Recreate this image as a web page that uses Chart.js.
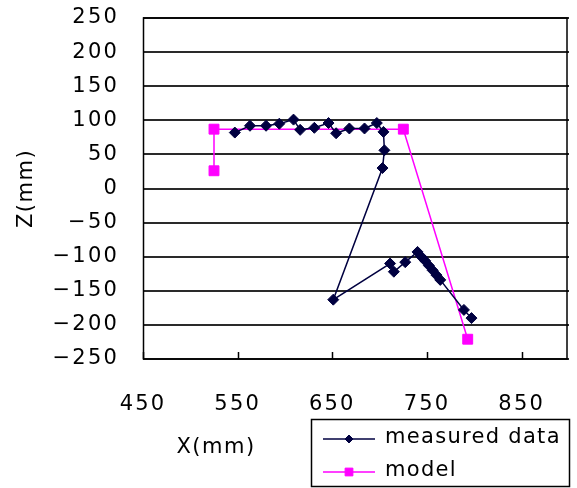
<!DOCTYPE html>
<html>
<head>
<meta charset="utf-8">
<script src="https://cdn.jsdelivr.net/npm/chart.js@4/dist/chart.umd.min.js"></script>
<style>
html,body{margin:0;padding:0;background:#fff;}
#wrap{width:577px;height:488px;}
</style>
</head>
<body>
<div id="wrap"><canvas id="c" width="577" height="488"></canvas></div>
<script>
// Data
const measuredX = [547, 563, 580, 594, 609, 616, 631, 646, 654, 668, 684, 697, 704, 705, 703, 651, 711, 715, 727, 740, 744, 748, 752, 756, 760, 764, 789, 797];
const measuredZ = [82, 92, 92, 95, 101, 86, 89, 96, 81, 88, 88, 96, 83, 56, 30, -163, -110, -122, -108, -93, -100, -106, -113, -120, -127, -134, -178, -190];
const modelX = [525, 525, 725, 793];
const modelZ = [26, 87, 87, -221];
const xTickValues = [450, 550, 650, 750, 850];
const seriesNames = ['measured data', 'model'];
const xTitle = 'X(mm)';
const yTitle = 'Z(mm)';

const NAVY = '#000040';
const MAGENTA = '#ff00ff';
const FONT = '"DejaVu Sans", sans-serif';
const SPACING = '2.2px';

const toPts = (xs, ys) => xs.map((x, i) => ({x: x, y: ys[i]}));

const spacing = {
  id: 'spacing',
  beforeInit(chart) { chart.ctx.letterSpacing = SPACING; },
  beforeLayout(chart) { chart.ctx.letterSpacing = SPACING; },
  beforeDraw(chart) { chart.ctx.letterSpacing = SPACING; }
};

const decor = {
  id: 'decor',
  afterDatasetsDraw(chart) {
    const ctx = chart.ctx;
    const a = chart.chartArea;
    const xs = chart.scales.x;
    ctx.save();
    // plot box
    ctx.strokeStyle = '#000';
    ctx.lineWidth = 1.5;
    ctx.strokeRect(a.left + 0.5, a.top, a.right - a.left - 2.5, a.bottom - a.top);
    // inner x tick marks
    xTickValues.forEach(v => {
      const px = Math.round(xs.getPixelForValue(v)) + 0.5;
      ctx.beginPath();
      ctx.moveTo(px, a.bottom);
      ctx.lineTo(px, a.bottom - 7);
      ctx.stroke();
    });
    // axis titles
    ctx.letterSpacing = '1.5px';
    ctx.fillStyle = '#000';
    ctx.font = '21px ' + FONT;
    ctx.textAlign = 'center';
    ctx.textBaseline = 'middle';
    ctx.fillText(xTitle, 216, 448);
    ctx.save();
    ctx.translate(27, (a.top + a.bottom) / 2);
    ctx.rotate(-Math.PI / 2);
    ctx.fillText(yTitle, 0, 0);
    ctx.restore();
    // legend
    const lx = 311, ly = 419, lw = 258, lh = 67;
    ctx.fillStyle = '#fff';
    ctx.fillRect(lx, ly, lw, lh);
    ctx.strokeStyle = '#000';
    ctx.lineWidth = 1.5;
    ctx.strokeRect(lx + 0.5, ly + 0.5, lw, lh);
    const ds = chart.data.datasets;
    const rows = [439, 472];
    const legendRadius = [4, 5.5];
    ctx.letterSpacing = '1.3px';
    ds.forEach((d, i) => {
      const y = rows[i];
      ctx.strokeStyle = d.borderColor;
      ctx.lineWidth = 1.5;
      ctx.beginPath();
      ctx.moveTo(323, y);
      ctx.lineTo(375, y);
      ctx.stroke();
      ctx.fillStyle = d.pointBackgroundColor;
      ctx.strokeStyle = d.pointBorderColor;
      ctx.lineWidth = 1;
      Chart.helpers.drawPoint(ctx, {
        pointStyle: d.pointStyle, radius: legendRadius[i], borderWidth: 1, rotation: 0
      }, 349, y);
      ctx.fillStyle = '#000';
      ctx.font = '21px ' + FONT;
      ctx.textAlign = 'left';
      ctx.textBaseline = 'middle';
      ctx.fillText(d.label, 385, y - 1);
    });
    ctx.restore();
  }
};

new Chart(document.getElementById('c'), {
  type: 'scatter',
  data: {
    datasets: [
      {
        label: seriesNames[0],
        data: toPts(measuredX, measuredZ),
        showLine: true,
        borderColor: NAVY,
        borderWidth: 1.5,
        pointStyle: 'rectRot',
        pointRadius: 5.5,
        pointBorderWidth: 1,
        pointBackgroundColor: NAVY,
        pointBorderColor: NAVY,
        tension: 0
      },
      {
        label: seriesNames[1],
        data: toPts(modelX, modelZ),
        showLine: true,
        borderColor: MAGENTA,
        borderWidth: 1.5,
        pointStyle: 'rect',
        pointRadius: 7,
        pointBorderWidth: 1,
        pointBackgroundColor: MAGENTA,
        pointBorderColor: MAGENTA,
        tension: 0
      }
    ]
  },
  options: {
    responsive: false,
    animation: false,
    layout: {padding: {top: 18, right: 0, left: 0, bottom: 0}},
    plugins: {legend: {display: false}, tooltip: {enabled: false}},
    scales: {
      x: {
        type: 'linear',
        min: 450,
        max: 900,
        afterFit: s => { s.height = 129; s.paddingLeft = 0; s.paddingRight = 0; },
        afterBuildTicks: s => { s.ticks = xTickValues.map(v => ({value: v})); },
        grid: {display: false, drawTicks: false},
        border: {display: false},
        ticks: {padding: 33, color: '#000', font: {family: FONT, size: 21}, maxRotation: 0, autoSkip: false}
      },
      y: {
        min: -250,
        max: 250,
        afterFit: s => { s.width = 143; s.paddingTop = 0; s.paddingBottom = 0; },
        grid: {color: '#2a2a2a', lineWidth: 2, drawTicks: false},
        border: {display: false},
        ticks: {
          stepSize: 50, padding: 24, color: '#000', font: {family: FONT, size: 21},
          callback: v => String(v).replace('-', '\u2212')
        }
      }
    }
  },
  plugins: [spacing, decor]
});
</script>
</body>
</html>
